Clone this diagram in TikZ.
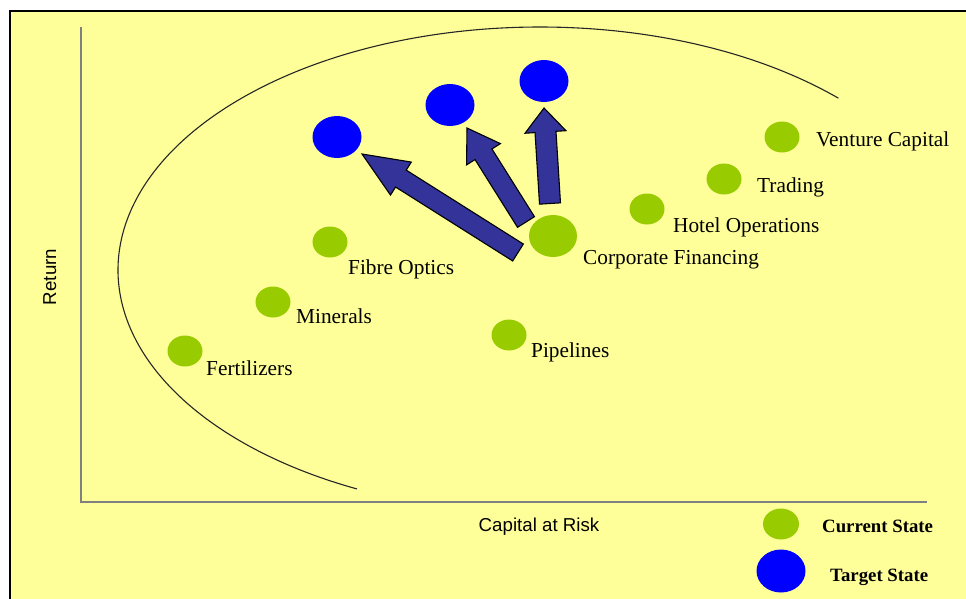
\documentclass[tikz,border=0pt]{standalone}
\usepackage{fontspec}
\setmainfont{Liberation Serif}
\setsansfont{Liberation Sans}
\usetikzlibrary{shapes.geometric,calc}
\definecolor{paper}{HTML}{FFFF99}
\definecolor{nowgreen}{HTML}{99CC00}
\definecolor{goalblue}{HTML}{0000FF}
\definecolor{arrowblue}{HTML}{333399}
\definecolor{axisgray}{HTML}{808080}
% block arrow from #1 (tail) to #2 (tip): shaft half width #3,
% head half width #4, head length #5
\newcommand{\blockarrow}[5]{%
  \path ($(#2)!#5!(#1)$) coordinate (hb);
  \draw[blk] ($(#1)!#3!90:(#2)$) -- ($(hb)!#3!90:(#2)$) -- ($(hb)!#4!90:(#2)$)
    -- (#2) -- ($(hb)!#4!-90:(#2)$) -- ($(hb)!#3!-90:(#2)$)
    -- ($(#1)!#3!-90:(#2)$) -- cycle;}

\begin{document}
\begin{tikzpicture}[x=1pt,y=1pt,
  cur/.style={ellipse,fill=nowgreen,inner sep=0pt,minimum width=35,minimum height=31},
  big/.style={minimum width=48,minimum height=42},
  tgt/.style={ellipse,fill=goalblue,inner sep=0pt,minimum width=49,minimum height=42},
  blk/.style={fill=arrowblue,draw=black,line width=1.1pt,line join=miter},
  lbl/.style={anchor=base west,inner sep=0pt,font=\fontsize{21.3}{25}\selectfont},
  axl/.style={inner sep=0pt,anchor=base,font=\sffamily\fontsize{18.7}{22}\selectfont},
  leg/.style={anchor=base west,inner sep=0pt,font=\bfseries\fontsize{18.8}{22}\selectfont},
  ax/.style={axisgray,line width=1.3pt}]
\useasboundingbox (0,0) rectangle (966,-598);
\fill[white] (0,0) rectangle (966,-598);
\clip (0,0) rectangle (966,-598);
% slide panel, cut off at right and bottom
\draw[fill=paper,line width=1.5pt] (10,-11) rectangle (985,-615);
% axes
\coordinate (top) at (81,-27);
\coordinate (org) at (81,-502);
\coordinate (rgt) at (927,-502);
\draw[ax] (top) -- (org) -- (rgt);
\node[axl] (xlab) at (539,-531) {Capital at Risk};
\node[axl,rotate=90] (ylab) at (56,-277) {Return};
% the frontier, an open half ellipse
\coordinate (cen) at (540,-270);
\draw[black!85,line width=1.1pt] (cen) ++(45:422 and 243)
  arc[start angle=45,end angle=244.3,x radius=422,y radius=243];
% moves towards the target state
\coordinate (a1s) at (518,-252.5); \coordinate (a1e) at (362,-154);
\coordinate (a2s) at (526,-222);   \coordinate (a2e) at (467,-128);
\coordinate (a3s) at (550,-203.5); \coordinate (a3e) at (544,-108);
\blockarrow{a1s}{a1e}{10pt}{19.5pt}{46pt}
\blockarrow{a2s}{a2e}{10pt}{20pt}{31pt}
\blockarrow{a3s}{a3e}{10.5pt}{20.5pt}{24pt}
% current businesses
\node[cur] (fert)  at (185,-351) {};
\node[cur] (mine)  at (273,-302) {};
\node[cur] (fibre) at (330,-242) {};
\node[cur] (pipe)  at (509,-335) {};
\node[cur,big] (corp) at (553,-236) {};
\node[cur] (hotel) at (647,-209) {};
\node[cur] (trad)  at (724,-179) {};
\node[cur] (vent)  at (782,-137) {};
\node[lbl] (fertl)  at (206,-375)   {Fertilizers};
\node[lbl] (minel)  at (296,-323)   {Minerals};
\node[lbl] (fibrel) at (348,-274)   {Fibre Optics};
\node[lbl] (pipel)  at (531,-357)   {Pipelines};
\node[lbl] (corpl)  at (583,-264)   {Corporate Financing};
\node[lbl] (hotell) at (673,-232.5) {Hotel Operations};
\node[lbl] (tradl)  at (757,-192)   {Trading};
\node[lbl] (ventl)  at (816,-146)   {Venture Capital};
% target positions
\node[tgt] (goal1) at (337,-137) {};
\node[tgt] (goal2) at (450,-105) {};
\node[tgt] (goal3) at (544,-81) {};
% legend
\node[cur,minimum width=36] (keycur) at (781,-524) {};
\node[tgt,minimum height=43] (keytgt) at (781,-571) {};
\node[leg] (keycurl) at (822,-532) {Current State};
\node[leg] (keytgtl) at (830,-581) {Target State};
\end{tikzpicture}
\end{document}
